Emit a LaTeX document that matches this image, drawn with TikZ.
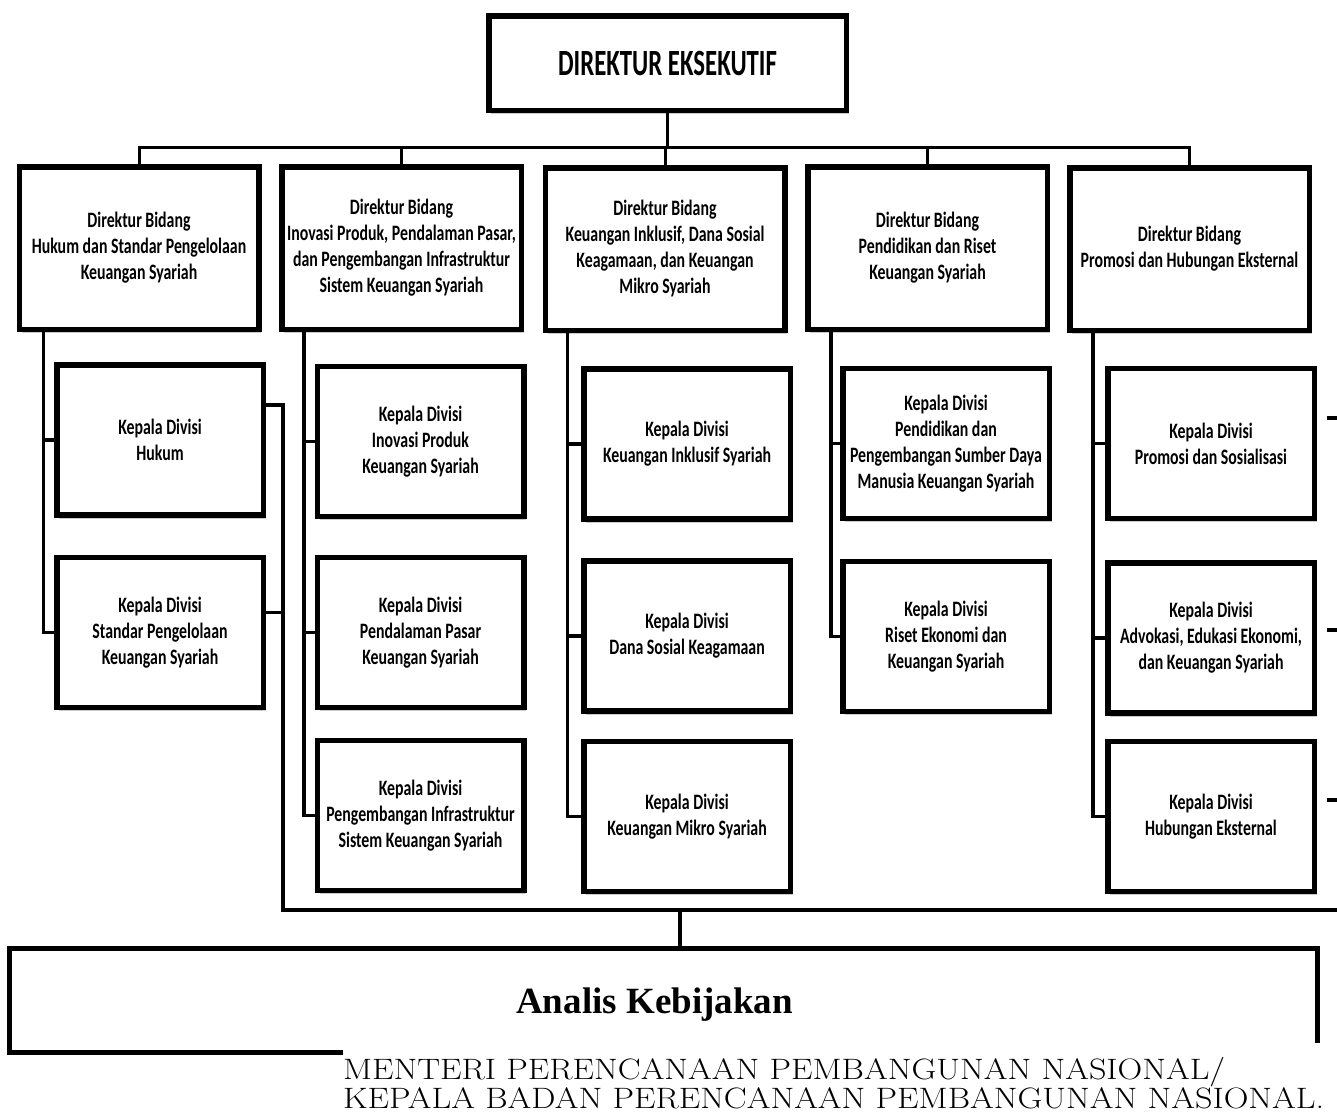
\documentclass[tikz,border=0pt]{standalone}
\usepackage{fontspec}
\newfontfamily\calf{Carlito}[FakeStretch=0.72]
\newfontfamily\calt{Carlito}[FakeStretch=0.67]
\newfontfamily\timesf{Liberation Serif}
\newfontfamily\menf{Latin Modern Roman}[FakeStretch=1.16]
\usetikzlibrary{shadows}
\begin{document}
\begin{tikzpicture}[x=1pt,y=-1pt,
  box/.style={draw, line width=5.5pt, fill=white, align=center, inner sep=2pt,
    font=\calf\bfseries\fontsize{22}{26}\selectfont,
    drop shadow={shadow xshift=2.5pt, shadow yshift=-3.5pt, opacity=0.4}},
  dirbox/.style={box, minimum width=239.5pt, minimum height=162.5pt},
  divbox/.style={box, minimum width=206.5pt, minimum height=150pt},
  conn/.style={line width=3.5pt},
  bus/.style={line width=3pt}]
\useasboundingbox (0,0) rectangle (1337,1112);

% top
\node[box, minimum width=357.5pt, minimum height=94.5pt, font=\calt\bfseries\fontsize{37}{40}\selectfont] (T) at (667.5,63) {DIREKTUR EKSEKUTIF};

% directors
\node[dirbox] (D1) at (139,248) {Direktur Bidang\\Hukum dan Standar Pengelolaan\\Keuangan Syariah};
\node[dirbox] (D2) at (401.5,248) {Direktur Bidang\\Inovasi Produk, Pendalaman Pasar,\\dan Pengembangan Infrastruktur\\Sistem Keuangan Syariah};
\node[dirbox] (D3) at (665,249) {Direktur Bidang\\Keuangan Inklusif, Dana Sosial\\Keagamaan, dan Keuangan\\Mikro Syariah};
\node[dirbox] (D4) at (927.5,248) {Direktur Bidang\\Pendidikan dan Riset\\Keuangan Syariah};
\node[dirbox] (D5) at (1189.5,249) {Direktur Bidang\\Promosi dan Hubungan Eksternal};

% divisions
\node[divbox] (H1) at (160,440) {Kepala Divisi\\Hukum};
\node[divbox] (H2) at (160,632.5) {Kepala Divisi\\Standar Pengelolaan\\Keuangan Syariah};
\node[divbox] (I1) at (420.5,441.5) {Kepala Divisi\\Inovasi Produk\\Keuangan Syariah};
\node[divbox] (I2) at (420.5,632.5) {Kepala Divisi\\Pendalaman Pasar\\Keuangan Syariah};
\node[divbox] (I3) at (420.5,815.5) {Kepala Divisi\\Pengembangan Infrastruktur\\Sistem Keuangan Syariah};
\node[divbox] (K1) at (687,444) {Kepala Divisi\\Keuangan Inklusif Syariah};
\node[divbox] (K2) at (687,636) {Kepala Divisi\\Dana Sosial Keagamaan};
\node[divbox] (K3) at (687,816.5) {Kepala Divisi\\Keuangan Mikro Syariah};
\node[divbox] (P1) at (946,443.5) {Kepala Divisi\\Pendidikan dan\\Pengembangan Sumber Daya\\Manusia Keuangan Syariah};
\node[divbox] (P2) at (946,636.5) {Kepala Divisi\\Riset Ekonomi dan\\Keuangan Syariah};
\node[divbox] (R1) at (1211,443.5) {Kepala Divisi\\Promosi dan Sosialisasi};
\node[divbox] (R2) at (1211,638) {Kepala Divisi\\Advokasi, Edukasi Ekonomi,\\dan Keuangan Syariah};
\node[divbox] (R3) at (1211,816.5) {Kepala Divisi\\Hubungan Eksternal};

% bus from top
\coordinate (busy) at (0,147);
\draw[bus] (D1.north) -- (D1.north |- busy) -- (D5.north |- busy) -- (D5.north);
\draw[bus] (T.south) -- (T.south |- busy);
\draw[bus] (D2.north) -- (D2.north |- busy);
\draw[bus] (D3.north) -- (D3.north |- busy);
\draw[bus] (D4.north) -- (D4.north |- busy);

% spines
\draw[conn] ([xshift=27pt]D1.south west) |- (H2.west);
\draw[conn] ([xshift=27pt]D1.south west |- H1.west) -- (H1.west);
\draw[conn] ([xshift=25pt]D2.south west) |- (I3.west);
\draw[conn] ([xshift=25pt]D2.south west |- I1.west) -- (I1.west);
\draw[conn] ([xshift=25pt]D2.south west |- I2.west) -- (I2.west);
\draw[conn] ([xshift=25pt]D3.south west) |- (K3.west);
\draw[conn] ([xshift=25pt]D3.south west |- K1.west) -- (K1.west);
\draw[conn] ([xshift=25pt]D3.south west |- K2.west) -- (K2.west);
\draw[conn] ([xshift=26pt]D4.south west) |- (P2.west);
\draw[conn] ([xshift=26pt]D4.south west |- P1.west) -- (P1.west);
\draw[conn] ([xshift=26pt]D5.south west) |- (R3.west);
\draw[conn] ([xshift=26pt]D5.south west |- R1.west) -- (R1.west);
\draw[conn] ([xshift=26pt]D5.south west |- R2.west) -- (R2.west);

% analis box (node, outline drawn around it)
\node[minimum width=1308pt, minimum height=104pt, outer sep=0pt, text height=33pt, text depth=8pt,
  font=\timesf\bfseries\fontsize{37}{40}\selectfont] (A) at (663.5,1000.5) {\hspace*{-18pt}Analis Kebijakan};

% bottom text
\node[anchor=north west, align=left, inner xsep=0pt, inner ysep=0pt, outer sep=0pt,
  font=\menf\fontsize{29.5}{29}\selectfont] (M) at (343,1057)
  {MENTERI PERENCANAAN PEMBANGUNAN NASIONAL/\\KEPALA BADAN PERENCANAAN PEMBANGUNAN NASIONAL.};

\coordinate (aright) at (1317.5,1043);
\draw[line width=5pt] (A.south -| M.west) -- (A.south west) -- (A.north west) -- (A.north east) -- (A.north east |- aright);

% bracket to analis
\coordinate (h1o) at ([yshift=35pt]H1.east);
\coordinate (h2o) at ([yshift=20pt]H2.east);
\coordinate (brk) at (283,910);
\coordinate (rend) at (1337,910);
\coordinate (adrop) at (680,910);
\draw[conn] (h1o) -| (brk) -- (rend);
\draw[conn] (h2o) -- (h2o -| brk);
\draw[conn] (adrop) -- (adrop |- A.north);

% right edge stubs
\coordinate (e1) at (1327,418);
\coordinate (e2) at (1327,630);
\coordinate (e3) at (1327,800);
\draw[line width=4.5pt] (e1) -- ++(12,0);
\draw[line width=4.5pt] (e2) -- ++(12,0);
\draw[line width=4.5pt] (e3) -- ++(12,0);
\end{tikzpicture}
\end{document}
